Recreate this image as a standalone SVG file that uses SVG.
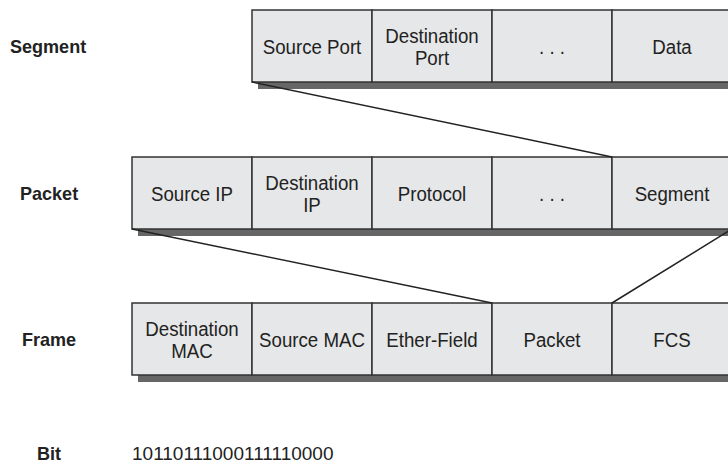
<svg xmlns="http://www.w3.org/2000/svg" width="728" height="471" viewBox="0 0 728 471">
<style>
.bg{fill:#ffffff}
.shadow{fill:#666666}
.cell{fill:#e6e7e8;stroke:#333333;stroke-width:1.5}
.t{font-family:"Liberation Sans",Arial,sans-serif;font-size:21px;fill:#222222;text-anchor:middle}
.lbl{font-family:"Liberation Sans",Arial,sans-serif;font-size:19px;font-weight:bold;fill:#222222}
.bits{font-family:"Liberation Sans",Arial,sans-serif;font-size:19px;fill:#222222}
.conn{stroke:#222222;stroke-width:1.5;fill:none}
</style>
<rect class="bg" x="0" y="0" width="728" height="471"/>

<g id="label-segment"><text class="lbl" transform="translate(10,53) scale(0.95,1)">Segment</text></g>
<g id="label-packet"><text class="lbl" transform="translate(20,200) scale(0.95,1)">Packet</text></g>
<g id="label-frame"><text class="lbl" transform="translate(22,346) scale(0.95,1)">Frame</text></g>
<g id="label-bit"><text class="lbl" transform="translate(37,460) scale(0.95,1)">Bit</text></g>

<g id="segment">
<rect class="shadow" x="258" y="17" width="480" height="72"/>
<rect class="cell" x="252" y="10" width="120" height="72"/>
<rect class="cell" x="372" y="10" width="120" height="72"/>
<rect class="cell" x="492" y="10" width="120" height="72"/>
<rect class="cell" x="612" y="10" width="120" height="72"/>
<text class="t" transform="translate(312,53.5) scale(0.89,1)">Source Port</text>
<text class="t" transform="translate(432,43) scale(0.89,1)">Destination</text>
<text class="t" transform="translate(432,65) scale(0.89,1)">Port</text>
<text class="t" transform="translate(552,53.5) scale(0.89,1)">. . .</text>
<text class="t" transform="translate(672,53.5) scale(0.89,1)">Data</text>
</g>

<g id="packet">
<rect class="shadow" x="138" y="164" width="600" height="72"/>
<rect class="cell" x="132" y="157" width="120" height="72"/>
<rect class="cell" x="252" y="157" width="120" height="72"/>
<rect class="cell" x="372" y="157" width="120" height="72"/>
<rect class="cell" x="492" y="157" width="120" height="72"/>
<rect class="cell" x="612" y="157" width="120" height="72"/>
<text class="t" transform="translate(192,200.5) scale(0.89,1)">Source IP</text>
<text class="t" transform="translate(312,190) scale(0.89,1)">Destination</text>
<text class="t" transform="translate(312,212) scale(0.89,1)">IP</text>
<text class="t" transform="translate(432,200.5) scale(0.89,1)">Protocol</text>
<text class="t" transform="translate(552,200.5) scale(0.89,1)">. . .</text>
<text class="t" transform="translate(672,200.5) scale(0.89,1)">Segment</text>
</g>

<g id="frame">
<rect class="shadow" x="138" y="310" width="600" height="72"/>
<rect class="cell" x="132" y="303" width="120" height="72"/>
<rect class="cell" x="252" y="303" width="120" height="72"/>
<rect class="cell" x="372" y="303" width="120" height="72"/>
<rect class="cell" x="492" y="303" width="120" height="72"/>
<rect class="cell" x="612" y="303" width="120" height="72"/>
<text class="t" transform="translate(192,336) scale(0.89,1)">Destination</text>
<text class="t" transform="translate(192,358) scale(0.89,1)">MAC</text>
<text class="t" transform="translate(312,346.5) scale(0.89,1)">Source MAC</text>
<text class="t" transform="translate(432,346.5) scale(0.89,1)">Ether-Field</text>
<text class="t" transform="translate(552,346.5) scale(0.89,1)">Packet</text>
<text class="t" transform="translate(672,346.5) scale(0.89,1)">FCS</text>
</g>

<g id="bit">
<text class="bits" x="132" y="460">10110111000111110000</text>
</g>

<g id="connectors">
<line class="conn" x1="252" y1="82" x2="612" y2="157"/>
<line class="conn" x1="132" y1="229" x2="492" y2="303"/>
<line class="conn" x1="732" y1="229" x2="612" y2="303"/>
</g>
</svg>
